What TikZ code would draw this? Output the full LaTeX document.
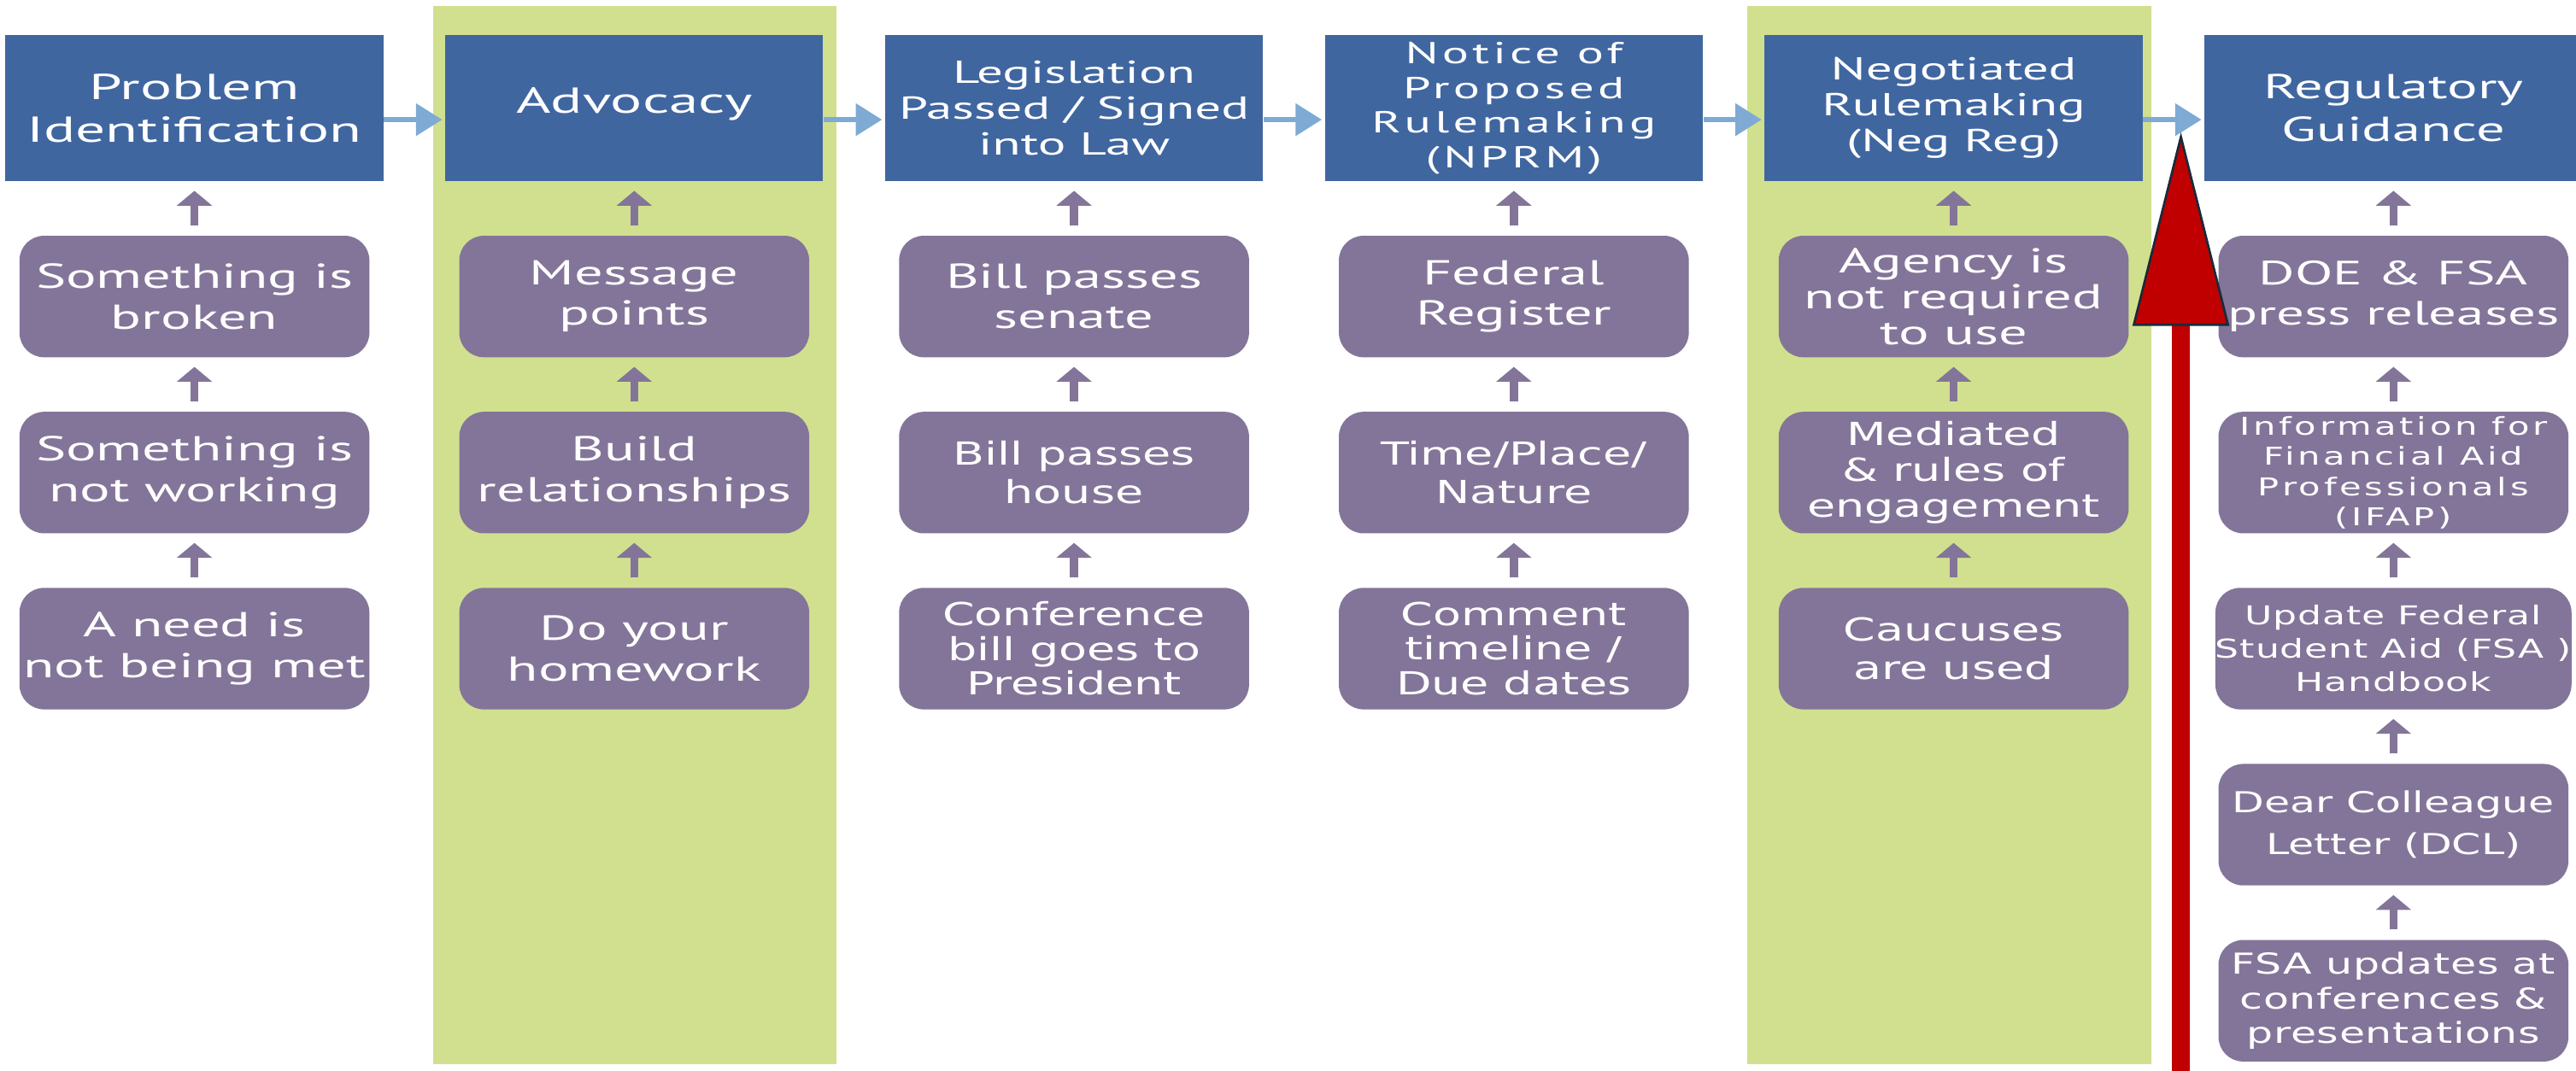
\documentclass[tikz,border=0pt]{standalone}
\usepackage{fontspec}
\setmainfont{PT Sans}[FakeStretch=1.64]
\newfontfamily\gothic{DejaVu Sans}[FakeStretch=1.45]
\usepackage{tikz}
\usetikzlibrary{positioning,arrows.meta}
\definecolor{HeadBlue}{RGB}{64,102,160}
\definecolor{StepViolet}{RGB}{131,117,153}
\definecolor{BandGreen}{RGB}{209,224,142}
\definecolor{FlowBlue}{RGB}{126,170,212}
\definecolor{AlertRed}{RGB}{192,0,0}
\definecolor{TipNavy}{RGB}{26,42,58}
\tikzstyle{HeadNode}=[rectangle, fill=HeadBlue, text=white, minimum width=4.6cm, minimum height=1.78cm, inner sep=0pt, align=center, font=\fontsize{12.5}{14.8}\selectfont]
\tikzstyle{StepNode}=[rectangle, rounded corners=0.3cm, fill=StepViolet, text=white, minimum width=4.26cm, minimum height=1.48cm, inner sep=0pt, align=center, font=\fontsize{12}{14}\selectfont]
\tikzstyle{GothNode}=[StepNode, font=\gothic\fontsize{11}{13.5}\selectfont]
\tikzstyle{FlowArrow}=[draw=FlowBlue, line width=2pt, -{Triangle[width=0.38cm,length=0.32cm]}, shorten >=0.03cm]
\tikzstyle{UpArrow}=[draw=StepViolet, line width=0.1cm, -{Triangle[width=0.42cm,length=0.18cm]}, shorten <=0.12cm, shorten >=0.11cm]
\tikzstyle{Band}=[fill=BandGreen]

\begin{document}
\begin{tikzpicture}
      \useasboundingbox[fill=white] (0,0) rectangle (31.36,-13.04);
      \fill[Band] (5.27,-0.07) rectangle (10.18,-12.96);
      \fill[Band] (21.27,-0.07) rectangle (26.19,-12.96);

      \node[HeadNode, anchor=north west] (1) at (0.06,-0.42) {Problem\\Identification};
      \node[HeadNode, right=0.74cm of 1] (2) {\raisebox{0.2cm}{Advocacy}};
      \node[HeadNode, right=0.74cm of 2, font=\fontsize{11}{12.5}\selectfont] (3) {Legislation\\Passed / Signed\\into Law};
      \node[HeadNode, right=0.74cm of 3, font=\fontsize{10.5}{12}\selectfont\addfontfeature{LetterSpace=12}] (4) {Notice of\\Proposed\\Rulemaking\\(NPRM)};
      \node[HeadNode, right=0.74cm of 4, font=\fontsize{11}{12.5}\selectfont] (5) {Negotiated\\Rulemaking\\(Neg Reg)};
      \node[HeadNode, right=0.74cm of 5, font=\fontsize{12}{14.8}\selectfont] (6) {Regulatory\\Guidance};

      \node[StepNode, below=0.65cm of 1] (1a) {Something is\\broken};
      \node[StepNode, below=0.65cm of 1a] (1b) {Something is\\not working};
      \node[StepNode, below=0.65cm of 1b] (1c) {A need is\\not being met};

      \node[StepNode, below=0.65cm of 2] (2a) {Message\\points};
      \node[StepNode, below=0.65cm of 2a] (2b) {Build\\relationships};
      \node[StepNode, below=0.65cm of 2b] (2c) {Do your\\homework};

      \node[StepNode, below=0.65cm of 3] (3a) {Bill passes\\senate};
      \node[GothNode, below=0.65cm of 3a] (3b) {Bill passes\\house};
      \node[GothNode, below=0.65cm of 3b, font=\gothic\fontsize{11}{12}\selectfont] (3c) {Conference\\bill goes to\\President};

      \node[StepNode, below=0.65cm of 4] (4a) {Federal\\Register};
      \node[GothNode, below=0.65cm of 4a] (4b) {Time/Place/\\Nature};
      \node[GothNode, below=0.65cm of 4b, font=\gothic\fontsize{11}{12}\selectfont] (4c) {Comment\\timeline /\\Due dates};

      \node[StepNode, below=0.65cm of 5, font=\fontsize{12}{12.5}\selectfont] (5a) {Agency is\\not required\\to use};
      \node[GothNode, below=0.65cm of 5a, font=\gothic\fontsize{11}{12.5}\selectfont] (5b) {Mediated\\\& rules of\\engagement};
      \node[GothNode, below=0.65cm of 5b] (5c) {Caucuses\\are used};

      \node[StepNode, below=0.65cm of 6, font=\fontsize{11.7}{14}\selectfont] (6a) {DOE \& FSA\\press releases};
      \node[GothNode, below=0.65cm of 6a, font=\gothic\fontsize{8.5}{10.5}\selectfont\addfontfeature{LetterSpace=13}] (6b) {Information for\\Financial Aid\\Professionals\\(IFAP)};
      \node[GothNode, below=0.65cm of 6b, font=\gothic\fontsize{9}{11.5}\selectfont\addfontfeature{LetterSpace=3}] (6c) {Update Federal\\Student Aid (FSA )\\Handbook};
      \node[GothNode, below=0.65cm of 6c, font=\gothic\fontsize{10}{14.5}\selectfont] (6d) {Dear Colleague\\Letter (DCL)};
      \node[GothNode, below=0.65cm of 6d, font=\gothic\fontsize{10}{12}\selectfont\addfontfeature{LetterSpace=2}] (6e) {FSA updates at\\conferences \&\\presentations};

      \draw[FlowArrow] ([yshift=-0.14cm]1.east) -- ([yshift=-0.14cm]2.west);
      \draw[FlowArrow] ([yshift=-0.14cm]2.east) -- ([yshift=-0.14cm]3.west);
      \draw[FlowArrow] ([yshift=-0.14cm]3.east) -- ([yshift=-0.14cm]4.west);
      \draw[FlowArrow] ([yshift=-0.14cm]4.east) -- ([yshift=-0.14cm]5.west);
      \draw[FlowArrow] ([yshift=-0.14cm]5.east) -- ([yshift=-0.14cm]6.west);

      \draw[UpArrow] (1a) -- (1);
      \draw[UpArrow] (1b) -- (1a);
      \draw[UpArrow] (1c) -- (1b);
      \draw[UpArrow] (2a) -- (2);
      \draw[UpArrow] (2b) -- (2a);
      \draw[UpArrow] (2c) -- (2b);
      \draw[UpArrow] (3a) -- (3);
      \draw[UpArrow] (3b) -- (3a);
      \draw[UpArrow] (3c) -- (3b);
      \draw[UpArrow] (4a) -- (4);
      \draw[UpArrow] (4b) -- (4a);
      \draw[UpArrow] (4c) -- (4b);
      \draw[UpArrow] (5a) -- (5);
      \draw[UpArrow] (5b) -- (5a);
      \draw[UpArrow] (5c) -- (5b);
      \draw[UpArrow] (6a) -- (6);
      \draw[UpArrow] (6b) -- (6a);
      \draw[UpArrow] (6c) -- (6b);
      \draw[UpArrow] (6d) -- (6c);
      \draw[UpArrow] (6e) -- (6d);

      \coordinate (foot) at (26.55,-13.1);
      \coordinate (tip) at (26.55,-1.61);
      \draw[AlertRed, line width=0.22cm, -{Triangle[width=1.175cm,length=2.36cm,line width=0.8pt,color=TipNavy,fill=AlertRed]}] (foot) -- (tip);
\end{tikzpicture}
\end{document}
